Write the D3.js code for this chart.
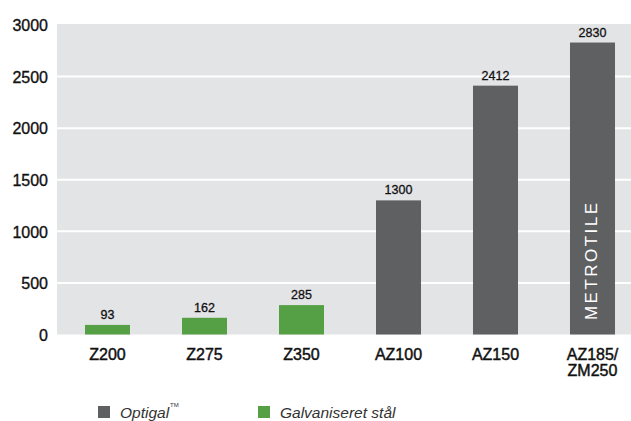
<!DOCTYPE html>
<html><head><meta charset="utf-8">
<script src="https://cdn.jsdelivr.net/npm/d3@7"></script>
<style>
body{margin:0;background:#fff;}
svg{display:block;}
text{font-family:"Liberation Sans",Arial,Helvetica,sans-serif;}
</style></head>
<body><svg id="c" width="631" height="421"></svg>
<script>
const categories = ["Z200","Z275","Z350","AZ100","AZ150","AZ185/\nZM250"];
const values = [93,162,285,1300,2412,2830];
const seriesOf = ["galv","galv","galv","optigal","optigal","optigal"];
const yTicks = [0,500,1000,1500,2000,2500,3000];
const legendItems = [{key:"optigal",label:"Optigal",tm:true},{key:"galv",label:"Galvaniseret stål",tm:false}];
const colors = {optigal:"#5f6062", galv:"#55a045"};

const svg = d3.select("#c");
const W=631;
const x = d3.scaleBand().domain(categories).range([59,641]).paddingInner(0.536).paddingOuter(0.268);
const y = d3.scaleLinear().domain([0,3000]).range([334.5,25]);

// plot background
svg.append("rect").attr("x",57).attr("y",y(3000)-1).attr("width",W-57).attr("height",y(0)-y(3000)+1).attr("fill","#e3e4e6");

// gridlines
svg.append("g").selectAll("line").data(yTicks.filter(d=>d>0 && d<3000)).join("line")
  .attr("x1",57).attr("x2",W).attr("y1",d=>y(d)).attr("y2",d=>y(d))
  .attr("stroke","#fff").attr("stroke-width",2);

// y axis labels
const yAxis = d3.axisLeft(y).tickValues(yTicks).tickSize(0).tickPadding(0).tickFormat(d3.format("d"));
const ga = svg.append("g").attr("transform","translate(48,0)").call(yAxis);
ga.select(".domain").remove();
ga.selectAll("text").attr("font-size",16).attr("fill","#111").attr("stroke","#111").attr("stroke-width",0.35)
  .attr("font-family","Liberation Sans, Arial, sans-serif").attr("dy","0.36em");

// bars
svg.append("g").selectAll("rect").data(categories).join("rect")
  .attr("x",d=>x(d)).attr("width",x.bandwidth())
  .attr("y",(d,i)=>y(values[i])).attr("height",(d,i)=>y(0)-y(values[i]))
  .attr("fill",(d,i)=>colors[seriesOf[i]]);

// value labels
svg.append("g").selectAll("text").data(categories).join("text")
  .attr("x",d=>x(d)+x.bandwidth()/2).attr("y",(d,i)=>y(values[i])-6)
  .attr("text-anchor","middle").attr("font-size",12.5).attr("fill","#111")
  .attr("stroke","#111").attr("stroke-width",0.3)
  .text((d,i)=>values[i]);

// x labels
const xl = svg.append("g").selectAll("text").data(categories).join("text")
  .attr("x",d=>x(d)+x.bandwidth()/2).attr("y",360)
  .attr("text-anchor","middle").attr("font-size",16).attr("fill","#111")
  .attr("stroke","#111").attr("stroke-width",0.45);
xl.each(function(d){
  const parts=d.split("\n");
  d3.select(this).selectAll("tspan").data(parts).join("tspan")
    .attr("x",x(d)+x.bandwidth()/2).attr("dy",(p,i)=>i===0?0:15.5).text(p=>p);
});

// METROTILE
const last = categories[categories.length-1];
svg.append("text")
  .attr("transform",`translate(${x(last)+x.bandwidth()/2+4.5},320) rotate(-90)`)
  .attr("font-family","Lato, 'Open Sans', sans-serif").attr("font-weight",300)
  .attr("font-size",17).attr("fill","#fff")
  .attr("textLength",117).attr("lengthAdjust","spacing")
  .text("METROTILE");

// legend
const lx=[98,258];
const lg = svg.append("g").selectAll("g").data(legendItems).join("g")
  .attr("transform",(d,i)=>`translate(${lx[i]},406)`);
lg.append("rect").attr("width",12).attr("height",12).attr("fill",d=>colors[d.key]);
const lt = lg.append("text").attr("x",22).attr("y",12).attr("font-size",15.5).attr("font-style","italic")
  .attr("fill","#333").text(d=>d.label);
lg.filter(d=>d.tm).append("text").attr("x",72).attr("y",1).attr("font-size",6).attr("fill","#333").text("TM");
</script></body></html>
